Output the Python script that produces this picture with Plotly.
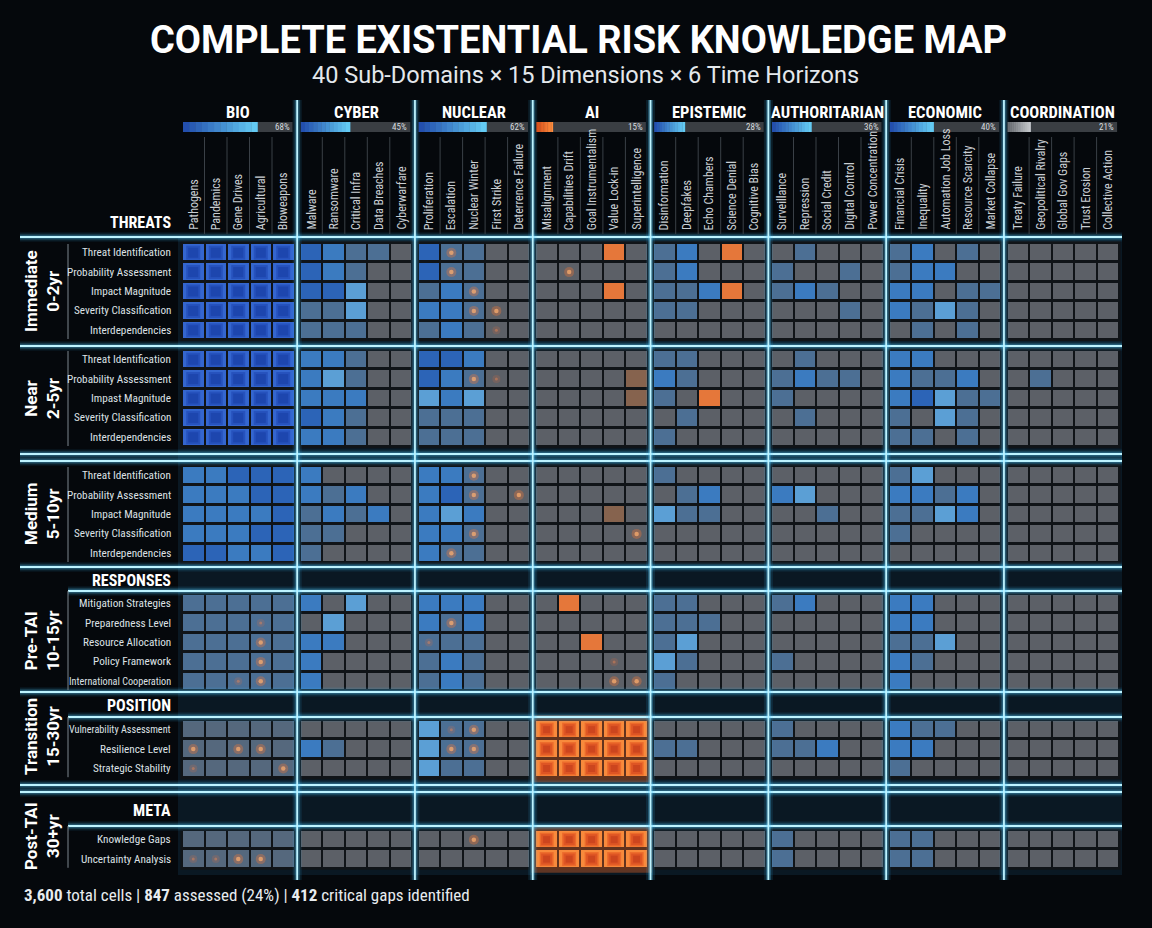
import numpy as np
import plotly.graph_objects as go

# ---------------- DATA ----------------
TITLE = "COMPLETE EXISTENTIAL RISK KNOWLEDGE MAP"
SUBTITLE = "40 Sub-Domains × 15 Dimensions × 6 Time Horizons"

DOMAINS = ["BIO", "CYBER", "NUCLEAR", "AI", "EPISTEMIC", "AUTHORITARIAN", "ECONOMIC", "COORDINATION"]
DOMAIN_PCT = [68, 45, 62, 15, 28, 36, 40, 21]
DOMAIN_BAR_STYLE = ["blue", "blue", "blue", "orange", "blue", "blue", "blue", "gray"]

BIO_SUBS = ["Pathogens", "Pandemics", "Gene Drives", "Agricultural", "Bioweapons"]
CYBER_SUBS = ["Malware", "Ransomware", "Critical Infra", "Data Breaches", "Cyberwarfare"]
NUCLEAR_SUBS = ["Proliferation", "Escalation", "Nuclear Winter", "First Strike", "Deterrence Failure"]
AI_SUBS = ["Misalignment", "Capabilities Drift", "Goal Instrumentalism", "Value Lock-in", "Superintelligence"]
EPISTEMIC_SUBS = ["Disinformation", "Deepfakes", "Echo Chambers", "Science Denial", "Cognitive Bias"]
AUTH_SUBS = ["Surveillance", "Repression", "Social Credit", "Digital Control", "Power Concentration"]
ECON_SUBS = ["Financial Crisis", "Inequality", "Automation Job Loss", "Resource Scarcity", "Market Collapse"]
COORD_SUBS = ["Treaty Failure", "Geopolitical Rivalry", "Global Gov Gaps", "Trust Erosion", "Collective Action"]
SUB_DOMAINS = [BIO_SUBS, CYBER_SUBS, NUCLEAR_SUBS, AI_SUBS, EPISTEMIC_SUBS, AUTH_SUBS, ECON_SUBS, COORD_SUBS]

HORIZONS = ["Immediate<br>0-2yr", "Near<br>2-5yr", "Medium<br>5-10yr",
            "Pre-TAI<br>10-15yr", "Transition<br>15-30yr", "Post-TAI<br>30+yr"]
SECTIONS = ["THREATS", None, None, "RESPONSES", "POSITION", "META"]

THREAT_DIMS = ["Threat Identification", "Probability Assessment", "Impact Magnitude",
               "Severity Classification", "Interdependencies"]
THREAT_DIMS_NEAR = ["Threat Identification", "Probability Assessment", "Impast Magnitude",
                    "Severity Classification", "Interdependencies"]
RESPONSE_DIMS = ["Mitigation Strategies", "Preparedness Level", "Resource Allocation",
                 "Policy Framework", "International Cooperation"]
POSITION_DIMS = ["Vulnerability Assessment", "Resilience Level", "Strategic Stability"]
META_DIMS = ["Knowledge Gaps", "Uncertainty Analysis"]
ROW_LABELS = [THREAT_DIMS, THREAT_DIMS_NEAR, THREAT_DIMS, RESPONSE_DIMS, POSITION_DIMS, META_DIMS]

# Cell status codes, one 5-letter group per domain (BIO .. COORDINATION)
# e=unassessed  g=grey-blue  d=slate  b=blue  a=deep blue  c=light blue
# f=deep assessed (bio)  o=emerging gap  p=critical gap  q=critical cluster
IMMEDIATE = [
    "fffff abdde addee eeepe dbepe edeee dbede eeeee",
    "fffff abdee addee eeeee dbeee deede dbbee eeeee",
    "fffff aacee dbdee eeepe ddbpe dbdee bbedd eeeee",
    "fffff ddcee bbdee eeeee ddeee eeede bdcde eeeee",
    "fffff dddee dbdee eeeee eeeee eeeee edede eeeee",
]
NEAR = [
    "fffff bbdee aabee eeeee ddeee edeee bbeee eeeee",
    "fffff bcdee abdee eeeeo bdeee dbdde bddbe edeee",
    "fffff bbbee cbcee eeeeo depee deeee bacdd eeeee",
    "fffff abdee dddee eeeee edeee edeee decde eeeee",
    "fffff bbdee dddee eeeee deeee eeeee ddede eeeee",
]
MEDIUM = [
    "bbaaa beeee bbdee eeeee deeee eeeee dceee eeeee",
    "bbbaa bdbee badee eeeee edbee bceee bbdbe eeeee",
    "bbbba dbdbe bcbee eeeoe cddee eedee ddcbe eeeee",
    "bbbaa ddeee bbdee eeeee eeeee eeeee deeee eeeee",
    "aabba deeee bddee eeeee eeeee eeeee eeeee eeeee",
]
PRE_TAI = [
    "ddddd becee bbbee epeee ddeee dbeee bbeee eeeee",
    "ddddd eceee bdbee eeeee dddee eeeee bbeee eeeee",
    "ddddd bbeee dddee eepee dceee eeeee ddcee eeeee",
    "ddddd beeee dbdee eeeee cdeee deeee bdeee eeeee",
    "ddddd beeee dbdee eeeee deeee eeeee beeee eeeee",
]
TRANSITION = [
    "ggggg eeeee cddee qqqqq eeeee deeee bddee eeeee",
    "ggggg bdeee cddee qqqqq ddeee ddbee bbeee eeeee",
    "ggggg eeeee cddee qqqqq eeeee eeeee deeee eeeee",
]
POST_TAI = [
    "ggggg eeeee eeeee qqqqq eeeee deeee ddeee eeeee",
    "ggggg eeeee eeeee qqqqq eeeee deeee ddeee eeeee",
]
GROUPS = [IMMEDIATE, NEAR, MEDIUM, PRE_TAI, TRANSITION, POST_TAI]

# Orange "hot spot" markers: (global row, global column, strength 1=faint 2=strong)
DOT_ROWS = [0, 1, 2, 3, 3, 4, 1, 6, 6, 10, 11, 11, 13, 14, 13,
            16, 17, 18, 19, 19, 16, 17, 18, 19, 19,
            21, 21, 21, 22, 22, 20, 20, 21, 21, 24, 24, 24, 24, 23]
DOT_COLS = [11, 11, 12, 12, 13, 13, 16, 12, 13, 12, 12, 14, 12, 11, 19,
            3, 3, 3, 2, 3, 11, 10, 18, 18, 19,
            0, 2, 3, 0, 4, 11, 12, 11, 12, 0, 1, 2, 3, 12]
DOT_STRENGTH = [2, 2, 2, 2, 2, 1, 2, 2, 1, 2, 2, 2, 2, 2, 2,
                1, 2, 2, 1, 2, 2, 1, 1, 2, 2,
                2, 2, 2, 1, 2, 1, 2, 2, 2, 1, 1, 2, 2, 2]

TOTAL_CELLS = 3600
ASSESSED = 847
CRITICAL_GAPS = 412

# ---------------- STYLE / LAYOUT CONSTANTS ----------------
W, H = 1152, 928
BG = "#05080c"
FONT = "Roboto"
FONT_N = "Roboto Condensed, Liberation Sans Narrow, Arial Narrow, Roboto"
CODES = "egdbacfopq"
CODE_COLORS = ["#5c6067", "#55687d", "#4c6f94", "#3b7bc0", "#2c64b7", "#5b9fd5",
               "#3466cf", "#86634e", "#e5773a", "#f88a3c"]

X0 = 182.0          # left of first domain block
DOM_PITCH = 117.8   # domain block pitch
CELL_W = 22.5
ROW_H = 19.4
GROUP_TOP = [243, 350, 466, 594, 720, 830]
H_FULL = [237, 346, 454, 461, 567, 692, 785, 792]
H_PART = [591, 717, 826]
HORIZON_Y = [291, 398, 514, 641, 737, 836]
V_TOP, V_BOT = 100, 880
LINE_RIGHT = 1122

fig = go.Figure()
shapes = []
annots = []


def dom_left(d):
    return X0 + d * DOM_PITCH


def col_center(c):
    return dom_left(c // 5) + (c % 5 + 0.5) * CELL_W


row_centers = []
for g, grp in enumerate(GROUPS):
    for i in range(len(grp)):
        row_centers.append(GROUP_TOP[g] + (i + 0.5) * ROW_H)
group_bottom = [GROUP_TOP[g] + len(GROUPS[g]) * ROW_H for g in range(len(GROUPS))]

# grid background
shapes.append(dict(type="rect", xref="x", yref="y", x0=dom_left(0) - 4, x1=LINE_RIGHT,
                   y0=H_FULL[0], y1=V_BOT - 5, fillcolor="#0a1823", line_width=0, layer="below"))
for g in range(len(GROUPS)):
    for d in range(8):
        shapes.append(dict(type="rect", xref="x", yref="y",
                           x0=dom_left(d) - 1.5, x1=dom_left(d) + 5 * CELL_W + 1.5,
                           y0=GROUP_TOP[g] - 2, y1=group_bottom[g] + 1,
                           fillcolor="#101418", line_width=0, layer="below"))
# orange glow behind critical clusters
for g in (4, 5):
    shapes.append(dict(type="rect", xref="x", yref="y",
                       x0=dom_left(3) - 4, x1=dom_left(3) + 5 * CELL_W + 4,
                       y0=GROUP_TOP[g] - 5, y1=group_bottom[g] + 4,
                       fillcolor="rgba(255,110,40,0.35)", line_width=0, layer="below"))

# ---------------- HEATMAP ----------------
xe = []
for d in range(8):
    for k in range(6):
        xe.append(dom_left(d) + k * CELL_W)
ye = []
for g, grp in enumerate(GROUPS):
    for i in range(len(grp) + 1):
        ye.append(GROUP_TOP[g] + i * ROW_H)

z = []
for g, grp in enumerate(GROUPS):
    for row in grp:
        blocks = row.split()
        zr = []
        for d, blk in enumerate(blocks):
            zr.extend(CODES.index(ch) for ch in blk)
            if d < 7:
                zr.append(None)
        z.append(zr)
    if g < len(GROUPS) - 1:
        z.append([None] * len(z[-1]))

n = len(CODES) - 1
cscale = [[i / n, CODE_COLORS[i]] for i in range(len(CODES))]
fig.add_trace(go.Heatmap(z=z, x=xe, y=ye, zmin=0, zmax=n, colorscale=cscale, showscale=False,
                         xgap=2, ygap=3, hoverinfo="skip"))

# inner shading for deep / critical cells
fx, fy, qx, qy = [], [], [], []
r = 0
for grp in GROUPS:
    for row in grp:
        s = row.replace(" ", "")
        for c, ch in enumerate(s):
            if ch == "f":
                fx.append(col_center(c)); fy.append(row_centers[r])
            elif ch == "q":
                qx.append(col_center(c)); qy.append(row_centers[r])
        r += 1
fig.add_trace(go.Scatter(x=fx, y=fy, mode="markers", hoverinfo="skip",
                         marker=dict(symbol="square", size=14, color="#2652bd", line_width=0)))
fig.add_trace(go.Scatter(x=fx, y=fy, mode="markers", hoverinfo="skip",
                         marker=dict(symbol="square", size=10, color="#1d46ae", line_width=0)))
for sz, colr in ((14, "#ec6a2b"), (11, "#de5524"), (7, "#cc451e")):
    fig.add_trace(go.Scatter(x=qx, y=qy, mode="markers", hoverinfo="skip",
                             marker=dict(symbol="square", size=sz, color=colr, line_width=0)))

# hot-spot dots
dx = [col_center(c) for c in DOT_COLS]
dy = [row_centers[r] for r in DOT_ROWS]
halo = [10 if s == 2 else 8 for s in DOT_STRENGTH]
halo_c = ["rgba(255,120,50,0.45)" if s == 2 else "rgba(255,110,50,0.22)" for s in DOT_STRENGTH]
core = [4.5 if s == 2 else 3 for s in DOT_STRENGTH]
core_c = ["#ffb070" if s == 2 else "rgba(255,140,80,0.55)" for s in DOT_STRENGTH]
fig.add_trace(go.Scatter(x=dx, y=dy, mode="markers", hoverinfo="skip",
                         marker=dict(size=halo, color=halo_c, line_width=0)))
fig.add_trace(go.Scatter(x=dx, y=dy, mode="markers", hoverinfo="skip",
                         marker=dict(size=core, color=core_c, line_width=0)))


# ---------------- GLOW LINES ----------------
def glow_line(x0, y0, x1, y1):
    for wdt, col in ((9, "rgba(60,190,255,0.12)"), (5, "rgba(90,205,255,0.30)"), (1.8, "#bdf3ff")):
        shapes.append(dict(type="line", xref="x", yref="y", x0=x0, y0=y0, x1=x1, y1=y1,
                           line=dict(color=col, width=wdt), layer="above"))


for y in H_FULL:
    glow_line(20, y, LINE_RIGHT, y)
for y in H_PART:
    glow_line(68, y, LINE_RIGHT, y)
for d in range(1, 8):
    xs = (dom_left(d - 1) + 5 * CELL_W + dom_left(d)) / 2
    glow_line(xs, V_TOP, xs, V_BOT)

# thin vertical line next to row labels
for g in range(len(GROUPS)):
    y0 = GROUP_TOP[g] + 1 if g < 3 else H_PART[g - 3]
    shapes.append(dict(type="line", xref="x", yref="y", x0=68, x1=68, y0=y0, y1=group_bottom[g] - 1,
                       line=dict(color="#7d858d", width=1)))

# ---------------- HEADER ----------------
def lerp_hex(c1, c2, t):
    a = [int(c1[i:i + 2], 16) for i in (1, 3, 5)]
    b = [int(c2[i:i + 2], 16) for i in (1, 3, 5)]
    return "#%02x%02x%02x" % tuple(int(a[i] + (b[i] - a[i]) * t) for i in range(3))


BAR_GRAD = {"blue": ("#234fae", "#63caf3"), "orange": ("#d9501c", "#ff8c3c"),
            "gray": ("#6c7075", "#c2c6ca")}
BAR_Y0, BAR_Y1 = 122, 132
for d, name in enumerate(DOMAINS):
    L = dom_left(d)
    R = L + 5 * CELL_W
    annots.append(dict(x=(L + R) / 2, y=112, text="<b>%s</b>" % name, showarrow=False,
                       font=dict(family=FONT_N, size=16.5, color="#ffffff"),
                       xanchor="center", yanchor="middle"))
    tl, tr = L + 1, R - 2
    shapes.append(dict(type="rect", xref="x", yref="y", x0=tl, x1=tr, y0=BAR_Y0, y1=BAR_Y1,
                       fillcolor="#3a3e43", line_width=0))
    fw = (tr - tl) * DOMAIN_PCT[d] / 100
    nseg = 12
    c1, c2 = BAR_GRAD[DOMAIN_BAR_STYLE[d]]
    for s in range(nseg):
        shapes.append(dict(type="rect", xref="x", yref="y", x0=tl + fw * s / nseg,
                           x1=tl + fw * (s + 1) / nseg + 0.3, y0=BAR_Y0, y1=BAR_Y1,
                           fillcolor=lerp_hex(c1, c2, s / (nseg - 1)), line_width=0))
    annots.append(dict(x=tr - 1, y=(BAR_Y0 + BAR_Y1) / 2, text="%d%%" % DOMAIN_PCT[d], showarrow=False,
                       font=dict(family=FONT_N, size=9, color="#d6dade"),
                       xanchor="right", yanchor="middle"))
    for k in range(5):
        annots.append(dict(x=L + (k + 0.5) * CELL_W, y=232, text=SUB_DOMAINS[d][k], showarrow=False,
                           textangle=-90, font=dict(family=FONT_N, size=12, color="#c9ced3"),
                           xanchor="center", yanchor="bottom"))
        if k > 0:
            shapes.append(dict(type="line", xref="x", yref="y", x0=L + k * CELL_W, x1=L + k * CELL_W,
                               y0=137, y1=234, line=dict(color="#3a4047", width=1)))

# row labels, section headers, horizon labels
r = 0
for g, labels in enumerate(ROW_LABELS):
    for lab in labels:
        fs = 11.2 if len(lab) < 24 else 10.2
        annots.append(dict(x=173, y=row_centers[r], text=lab, showarrow=False,
                           font=dict(family=FONT_N, size=fs, color="#dde1e5"),
                           xanchor="right", yanchor="middle"))
        r += 1
    annots.append(dict(x=42, y=HORIZON_Y[g], text="<b>%s</b>" % HORIZONS[g], showarrow=False,
                       textangle=-90, font=dict(family=FONT, size=17, color="#ffffff"),
                       xanchor="center", yanchor="middle"))
SECTION_Y = [222, None, None, 580, 705, 810]
for g, sec in enumerate(SECTIONS):
    if sec:
        annots.append(dict(x=173, y=SECTION_Y[g], text="<b>%s</b>" % sec, showarrow=False,
                           font=dict(family=FONT_N, size=16, color="#ffffff"),
                           xanchor="right", yanchor="middle"))

annots.append(dict(x=W / 2 + 2, y=40, text="<b>%s</b>" % TITLE, showarrow=False,
                   font=dict(family=FONT, size=38, color="#ffffff"), xanchor="center", yanchor="middle"))
annots.append(dict(x=W / 2 + 9, y=75, text=SUBTITLE, showarrow=False,
                   font=dict(family=FONT, size=23.5, color="#e4e8ec"), xanchor="center", yanchor="middle"))
pct = round(ASSESSED / TOTAL_CELLS * 100)
footer = ("<b>{:,}</b> total cells | <b>{}</b> assessed ({}%) | <b>{}</b> critical gaps identified"
          .format(TOTAL_CELLS, ASSESSED, pct, CRITICAL_GAPS))
annots.append(dict(x=22, y=895, text=footer, showarrow=False,
                   font=dict(family=FONT_N, size=17, color="#e8ecef"), xanchor="left", yanchor="middle"))

for a in annots:
    a.setdefault("xref", "x")
    a.setdefault("yref", "y")

fig.update_layout(
    width=W, height=H, margin=dict(l=0, r=0, t=0, b=0), autosize=False,
    paper_bgcolor=BG, plot_bgcolor=BG, showlegend=False,
    xaxis=dict(range=[0, W], visible=False, fixedrange=True),
    yaxis=dict(range=[H, 0], visible=False, fixedrange=True),
    shapes=shapes, annotations=annots,
)
fig.write_html("out.html", config={"displayModeBar": False})
